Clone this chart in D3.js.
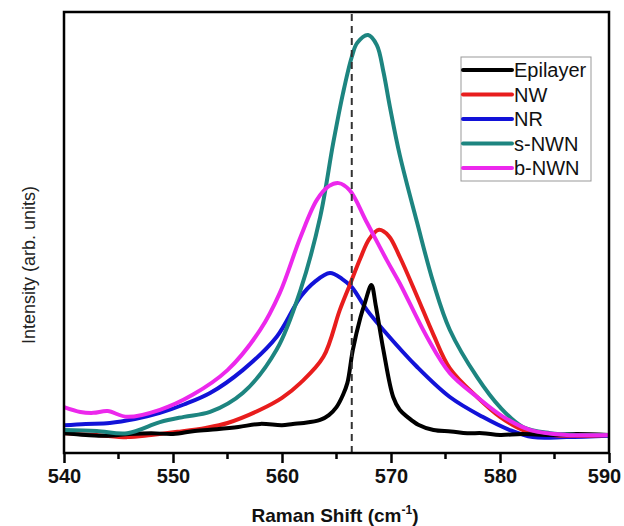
<!DOCTYPE html>
<html>
<head>
<meta charset="utf-8">
<script src="https://cdn.jsdelivr.net/npm/d3@7"></script>
<style>
body { margin: 0; background: #fff; }
text { font-family: Arial, "Liberation Sans", sans-serif; }
</style>
</head>
<body>
<div id="chart"></div>
<script>
let width = 624;
let height = 526;
let margin = {top: 12, right: 15, bottom: 73, left: 64};

// series names and colours
let names = ["Epilayer", "NW", "NR", "s-NWN", "b-NWN"];
let colors = ["#000000", "#e81d1d", "#1212d8", "#1d8580", "#ec28ec"];

// raman shift (cm-1), intensity (arb. units)
let epilayer = [[540,4.5],[542,4.1],[544,3.9],[546,4.3],[548,4.5],[550,4.3],[552,5.0],[554,5.4],[556,5.9],[558,6.6],[560,6.3],[561,6.6],[562,6.8],[563.5,7.5],[564.3,8.6],[565,10.4],[565.6,13.2],[566,15.9],[566.5,23.4],[567.2,30.8],[567.6,34.0],[568.2,38.1],[568.6,33.5],[569.3,23.4],[570.2,12.7],[570.8,9.8],[571.5,8.2],[572.5,6.4],[573.9,5.2],[575.5,4.9],[577,4.5],[578.4,4.5],[580,4.1],[582,4.3],[584.6,4.1],[587,4.3],[590,4.1]];
let nw = [[540,4.5],[543,4.1],[545.8,3.6],[548,4.1],[550.4,4.8],[553,5.7],[555,6.8],[558,9.8],[560,12.5],[561.7,15.9],[563.8,21.8],[565.3,32.4],[566.2,38.0],[567.2,44.2],[568,48.5],[568.9,50.6],[569.8,49.2],[570.8,44.5],[572.4,35.5],[573.9,26.8],[575.4,19.2],[577.9,12.7],[580,8.2],[582.1,5.2],[584.6,4.1],[587,3.9],[590,4.1]];
let nr = [[540,6.3],[542,6.6],[544.2,6.8],[546.5,7.7],[548.8,9.1],[551,11.0],[553.4,13.6],[556.4,18.8],[559.5,26.3],[561.7,35.4],[563,38.8],[564.4,40.8],[565.5,39.5],[566.4,37.6],[567.8,32.4],[569.3,27.9],[572.4,19.5],[575.4,12.7],[578.4,8.2],[580.9,5.2],[583,3.6],[586.1,3.6],[590,3.9]];
let snwn = [[540,5.2],[543,5.0],[545.8,4.5],[548.8,7.0],[551,8.2],[553.4,9.3],[556.4,13.6],[559.5,23.4],[561.7,37.0],[563.5,53.5],[564.7,70.3],[565.6,81.6],[566.4,89.8],[566.9,93.0],[567.9,94.8],[568.7,92.5],[569.3,86.5],[569.9,78.5],[570.8,67.6],[572.4,52.2],[573.9,38.5],[575.4,27.9],[577.9,17.2],[580,10.4],[582.1,5.9],[584.6,4.5],[587,4.1],[590,4.1]];
let bnwn = [[540,10.4],[541.5,9.3],[542.7,9.1],[544,9.5],[545.8,8.2],[548.8,9.8],[551.8,13.2],[555,18.8],[558,27.9],[559.8,36.3],[561.7,49.0],[563.2,57.4],[564.3,60.5],[565.2,61.2],[566.2,59.6],[567.8,52.2],[569.6,43.8],[570.8,38.5],[573.3,26.3],[575.4,18.1],[577.9,12.7],[580.3,8.2],[582.8,5.2],[586.1,4.1],[590,4.1]];
let seriesData = [epilayer, nw, nr, snwn, bnwn];

let xTicks = [540, 550, 560, 570, 580, 590];
let xMinorTicks = [545, 555, 565, 575, 585];
let refLine = 566.4;

let svg = d3.select("#chart").append("svg")
            .attr("width", width)
            .attr("height", height);

let x = d3.scaleLinear().domain([540, 590]).range([margin.left, width - margin.right]);
let y = d3.scaleLinear().domain([0, 100]).range([height - margin.bottom, margin.top]);

let plotW = width - margin.left - margin.right;
let plotH = height - margin.top - margin.bottom;

// curves
let line = d3.line()
             .x(d => x(d[0]))
             .y(d => y(d[1]))
             .curve(d3.curveCatmullRom.alpha(0.5));

svg.append("clipPath").attr("id", "clip")
   .append("rect")
   .attr("x", margin.left).attr("y", margin.top)
   .attr("width", plotW).attr("height", plotH);

let plot = svg.append("g").attr("clip-path", "url(#clip)");

// draw order so teal/magenta sit on top like the original
let order = [2, 1, 0, 3, 4];
for (let i of order) {
    plot.append("path")
        .attr("d", line(seriesData[i]))
        .attr("fill", "none")
        .attr("stroke", colors[i])
        .attr("stroke-width", 4)
        .attr("stroke-linejoin", "round");
}

// dashed reference line
svg.append("line")
   .attr("x1", x(refLine)).attr("x2", x(refLine))
   .attr("y1", margin.top + 2).attr("y2", height - margin.bottom)
   .attr("stroke", "#333")
   .attr("stroke-width", 2)
   .attr("stroke-dasharray", "7,5");

// x axis
let xAxis = svg.append("g")
   .attr("transform", "translate(0," + (height - margin.bottom) + ")")
   .call(d3.axisBottom(x).tickValues(xTicks).tickSize(10).tickPadding(6).tickFormat(d3.format("d")));
xAxis.select(".domain").remove();
xAxis.selectAll("line").attr("stroke", "#000").attr("stroke-width", 2.5);
xAxis.selectAll("text")
     .attr("font-size", 20).attr("font-weight", "bold").attr("fill", "#111")
     .attr("font-family", "Arial, 'Liberation Sans', sans-serif");
// last label sits a bit left so it stays inside the page
xAxis.selectAll("text").filter(d => d === 590).attr("dx", -5);

svg.append("g")
   .attr("transform", "translate(0," + (height - margin.bottom) + ")")
   .selectAll("line").data(xMinorTicks).join("line")
   .attr("x1", d => x(d)).attr("x2", d => x(d))
   .attr("y1", 0).attr("y2", 6)
   .attr("stroke", "#000").attr("stroke-width", 2.5);

// frame
svg.append("rect")
   .attr("x", margin.left).attr("y", margin.top)
   .attr("width", plotW).attr("height", plotH)
   .attr("fill", "none")
   .attr("stroke", "#000")
   .attr("stroke-width", 2.5);

// axis titles
let xt = svg.append("text")
   .attr("x", 335).attr("y", 522)
   .attr("text-anchor", "middle")
   .attr("font-size", 19).attr("font-weight", "bold").attr("fill", "#111");
xt.append("tspan").text("Raman Shift (cm");
xt.append("tspan").text("-1").attr("font-size", 12).attr("dy", -8);
xt.append("tspan").text(")").attr("dy", 8);

svg.append("text")
   .attr("transform", "translate(35,265) rotate(-90)")
   .attr("text-anchor", "middle")
   .attr("font-size", 18).attr("fill", "#222")
   .text("Intensity (arb. units)");

// legend
let legend = svg.append("g");
legend.append("rect")
      .attr("x", 461).attr("y", 57)
      .attr("width", 130).attr("height", 124)
      .attr("fill", "#fff")
      .attr("stroke", "#999").attr("stroke-width", 1);

names.forEach((name, i) => {
    let ly = 70 + i * 24.5;
    legend.append("line")
          .attr("x1", 463).attr("x2", 512)
          .attr("y1", ly).attr("y2", ly)
          .attr("stroke", colors[i]).attr("stroke-width", 4).attr("stroke-linecap", "round");
    legend.append("text")
          .attr("x", 514).attr("y", ly + 7)
          .attr("font-size", 20).attr("fill", "#111")
          .text(name);
});
</script>
</body>
</html>
